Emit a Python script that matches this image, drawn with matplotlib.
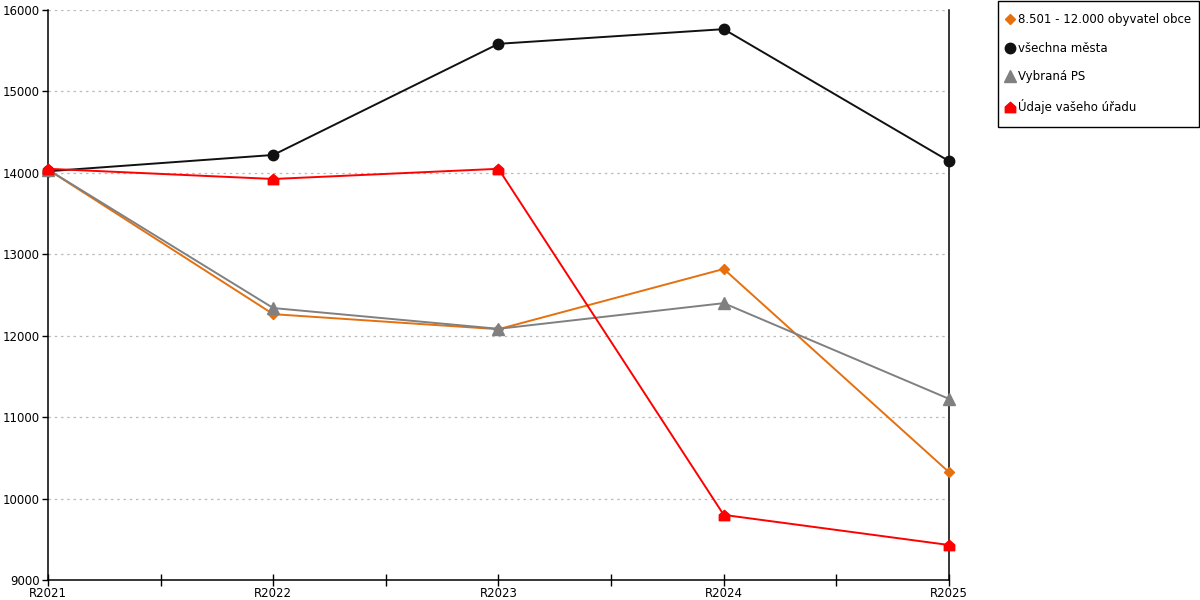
import matplotlib
matplotlib.use('Agg')
import matplotlib.pyplot as plt
from matplotlib.path import Path
from matplotlib.patches import Rectangle
from matplotlib.ticker import MultipleLocator

# data
years = ['R2021', 'R2022', 'R2023', 'R2024', 'R2025']
obce_8501_12000 = [14040, 12265, 12080, 12820, 10325]
vsechna_mesta = [14020, 14220, 15585, 15765, 14145]
vybrana_ps = [14040, 12340, 12085, 12400, 11225]
vas_urad = [14050, 13925, 14050, 9800, 9430]

house = Path([(-1, -1), (1, -1), (1, 0.1), (0, 1), (-1, 0.1), (-1, -1)],
             [Path.MOVETO, Path.LINETO, Path.LINETO, Path.LINETO, Path.LINETO, Path.CLOSEPOLY])

plt.rcParams['font.family'] = 'DejaVu Sans'
fig = plt.figure(figsize=(12, 6), dpi=100)
ax = fig.add_axes([0.04, 0.0333, 0.7508, 0.95])

x = range(len(years))
ax.plot(x, obce_8501_12000, color='#E5700F', marker='D', markersize=5.5, linewidth=1.4,
        label='8.501 - 12.000 obyvatel obce', zorder=3, clip_on=False)
ax.plot(x, vsechna_mesta, color='#111111', marker='o', markersize=7.5, linewidth=1.4,
        label='všechna města', zorder=3, clip_on=False)
ax.plot(x, vybrana_ps, color='#808080', marker='^', markersize=8, linewidth=1.4,
        label='Vybraná PS', zorder=3, clip_on=False)
ax.plot(x, vas_urad, color='#FF0000', marker=house, markersize=7.5, linewidth=1.4,
        label='Údaje vašeho úřadu', zorder=4, clip_on=False)

ax.set_xlim(0, len(years) - 1)
ax.set_ylim(9000, 16000)
ax.set_xticks(list(x))
ax.set_xticklabels(years)
ax.xaxis.set_minor_locator(MultipleLocator(0.5))
ax.yaxis.set_major_locator(MultipleLocator(1000))
ax.tick_params(axis='x', which='both', direction='inout', length=8, width=1, labelsize=8.5, pad=1)
ax.tick_params(axis='y', direction='out', length=4, width=1, labelsize=8.5, pad=2)

ax.grid(axis='y', color='#bbbbbb', linestyle=(0, (2, 3)), linewidth=0.9)
ax.spines['top'].set_visible(False)
for s in ['left', 'bottom', 'right']:
    ax.spines[s].set_linewidth(1.1)
    ax.spines[s].set_color('black')

# legend box drawn separately so the padding can match the reference
fig.patches.append(Rectangle((998 / 1200, 1 - 127 / 600), 201 / 1200, 126 / 600,
                             transform=fig.transFigure, fill=False, edgecolor='black',
                             linewidth=1))
leg = fig.legend(loc='upper left', bbox_to_anchor=(1006 / 1200, 1 - 13.5 / 600), frameon=False,
                 fontsize=8.5, labelspacing=1.31, handlelength=0.6,
                 handletextpad=0.4, borderpad=0, borderaxespad=0)
for line in leg.get_lines():
    line.set_linestyle('none')

fig.savefig('out.png', dpi=100)
